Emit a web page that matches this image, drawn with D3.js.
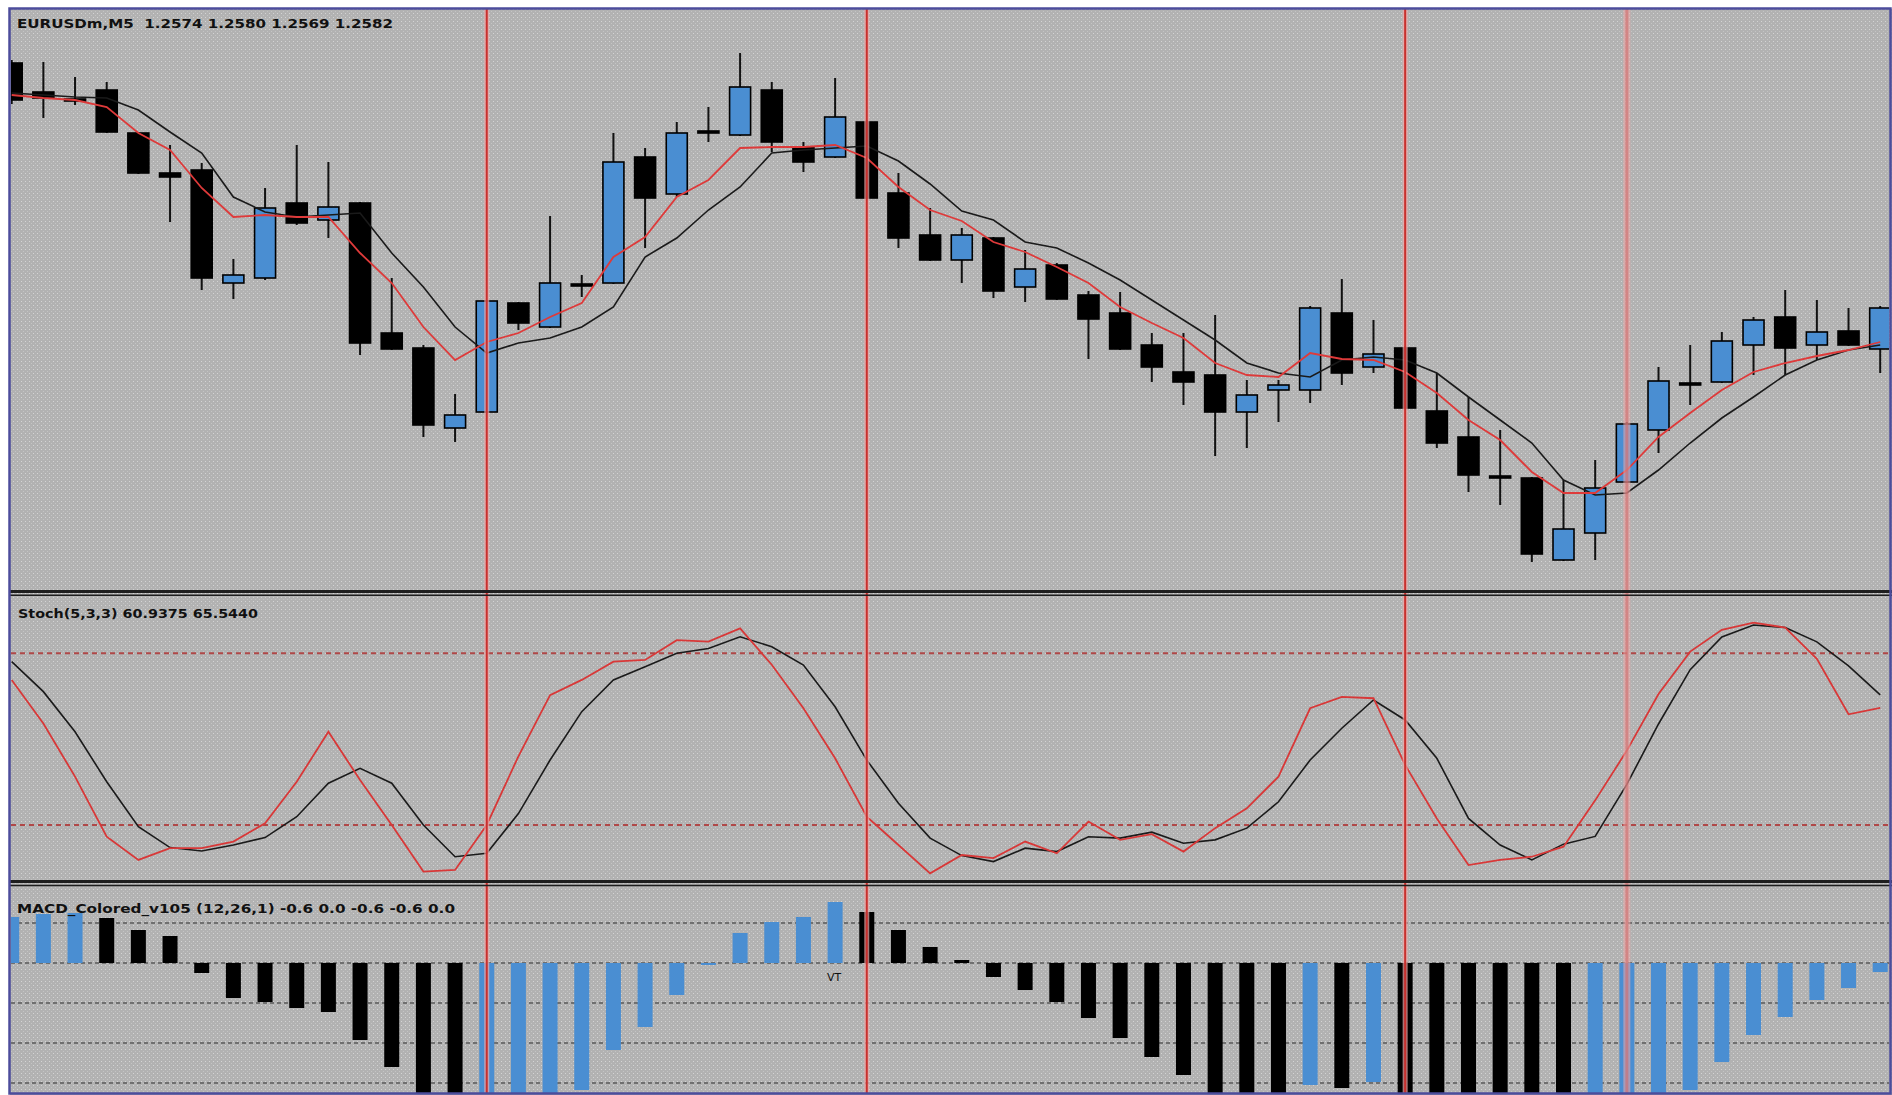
<!DOCTYPE html>
<html>
<head>
<meta charset="utf-8">
<script src="https://cdnjs.cloudflare.com/ajax/libs/d3/7.8.5/d3.min.js"></script>
<style>
html, body { margin: 0; padding: 0; background: #fff; }
svg { display: block; }
text { font-family: "DejaVu Sans", sans-serif; fill: #111; }
</style>
</head>
<body>
<svg id="chart" width="1892" height="1095"></svg>
<script>
// EURUSDm M5 candles
var opens = [1.26324, 1.26266, 1.26252, 1.26270, 1.26184, 1.26104, 1.26110, 1.25884, 1.25894, 1.26044,
    1.26010, 1.26044, 1.25784, 1.25754, 1.25594, 1.25626, 1.25844, 1.25796, 1.25882, 1.25884,
    1.26136, 1.26062, 1.26188, 1.26180, 1.26270, 1.26156, 1.26136, 1.26206, 1.26064, 1.25980,
    1.25930, 1.25974, 1.25876, 1.25920, 1.25860, 1.25824, 1.25760, 1.25706, 1.25700, 1.25626,
    1.25670, 1.25670, 1.25824, 1.25716, 1.25754, 1.25628, 1.25576, 1.25498, 1.25494, 1.25330,
    1.25384, 1.25486, 1.25590, 1.25684, 1.25686, 1.25760, 1.25816, 1.25760, 1.25788, 1.25752];

var highs = [1.26330, 1.26326, 1.26296, 1.26286, 1.26186, 1.26160, 1.26124, 1.25932, 1.26074, 1.26160,
    1.26126, 1.26046, 1.25894, 1.25760, 1.25662, 1.25850, 1.25846, 1.26018, 1.25900, 1.26184,
    1.26154, 1.26206, 1.26236, 1.26344, 1.26286, 1.26166, 1.26294, 1.26210, 1.26104, 1.26034,
    1.25994, 1.25976, 1.25950, 1.25924, 1.25868, 1.25866, 1.25784, 1.25784, 1.25820, 1.25690,
    1.25690, 1.25838, 1.25892, 1.25810, 1.25758, 1.25704, 1.25656, 1.25590, 1.25496, 1.25490,
    1.25530, 1.25606, 1.25716, 1.25760, 1.25786, 1.25816, 1.25870, 1.25850, 1.25834, 1.25838];

var lows = [1.26242, 1.26214, 1.26240, 1.26184, 1.26102, 1.26006, 1.25870, 1.25852, 1.25890, 1.26000,
    1.25974, 1.25740, 1.25750, 1.25576, 1.25566, 1.25624, 1.25790, 1.25794, 1.25856, 1.25882,
    1.25954, 1.26056, 1.26166, 1.26178, 1.26146, 1.26106, 1.26134, 1.26052, 1.25954, 1.25928,
    1.25884, 1.25854, 1.25846, 1.25850, 1.25732, 1.25750, 1.25686, 1.25640, 1.25538, 1.25554,
    1.25606, 1.25644, 1.25680, 1.25704, 1.25632, 1.25554, 1.25466, 1.25440, 1.25326, 1.25328,
    1.25330, 1.25484, 1.25544, 1.25640, 1.25684, 1.25700, 1.25700, 1.25730, 1.25758, 1.25704];

var closes = [1.26250, 1.26254, 1.26250, 1.26186, 1.26104, 1.26096, 1.25894, 1.25900, 1.26034, 1.26004,
    1.26036, 1.25764, 1.25752, 1.25600, 1.25620, 1.25848, 1.25804, 1.25884, 1.25878, 1.26126,
    1.26054, 1.26184, 1.26184, 1.26276, 1.26166, 1.26126, 1.26216, 1.26054, 1.25974, 1.25930,
    1.25980, 1.25868, 1.25912, 1.25852, 1.25812, 1.25752, 1.25716, 1.25686, 1.25626, 1.25660,
    1.25680, 1.25834, 1.25704, 1.25742, 1.25634, 1.25564, 1.25500, 1.25494, 1.25342, 1.25392,
    1.25474, 1.25602, 1.25688, 1.25680, 1.25768, 1.25810, 1.25754, 1.25786, 1.25760, 1.25834];

// moving averages
var maFast = [1.26260, 1.26254, 1.26250, 1.26236, 1.26184, 1.26150, 1.26074, 1.26016, 1.26020, 1.26016,
    1.26016, 1.25944, 1.25884, 1.25796, 1.25730, 1.25766, 1.25784, 1.25816, 1.25844, 1.25936,
    1.25976, 1.26056, 1.26090, 1.26154, 1.26156, 1.26156, 1.26160, 1.26134, 1.26076, 1.26030,
    1.26008, 1.25966, 1.25946, 1.25916, 1.25884, 1.25836, 1.25804, 1.25774, 1.25724, 1.25700,
    1.25696, 1.25744, 1.25732, 1.25730, 1.25706, 1.25664, 1.25610, 1.25570, 1.25506, 1.25464,
    1.25464, 1.25510, 1.25576, 1.25624, 1.25670, 1.25706, 1.25724, 1.25738, 1.25750, 1.25766];

var maSlow = [1.26264, 1.26260, 1.26256, 1.26254, 1.26230, 1.26186, 1.26144, 1.26056, 1.26026, 1.26016,
    1.26020, 1.26024, 1.25944, 1.25876, 1.25796, 1.25744, 1.25764, 1.25774, 1.25796, 1.25836,
    1.25936, 1.25974, 1.26030, 1.26076, 1.26144, 1.26150, 1.26154, 1.26158, 1.26128, 1.26082,
    1.26028, 1.26010, 1.25966, 1.25954, 1.25924, 1.25890, 1.25850, 1.25810, 1.25770, 1.25724,
    1.25704, 1.25696, 1.25730, 1.25736, 1.25730, 1.25704, 1.25656, 1.25610, 1.25564, 1.25490,
    1.25460, 1.25464, 1.25510, 1.25564, 1.25614, 1.25656, 1.25700, 1.25730, 1.25750, 1.25760];

// Stoch(5,3,3)
var stochMain = [70.7, 55.5, 36.9, 15.9, 7.8, 11.9, 11.9, 14.2, 20.6, 35.1,
    52.6, 35.7, 20.0, 3.7, 4.3, 20.0, 44.0, 65.4, 70.7, 77.1,
    77.7, 84.6, 84.1, 88.7, 76.0, 60.8, 43.3, 22.9, 13.0, 3.1,
    9.5, 8.4, 14.2, 10.1, 21.2, 14.8, 16.8, 10.7, 18.9, 25.8,
    36.9, 60.8, 64.8, 64.3, 41.0, 22.3, 6.0, 7.8, 8.9, 12.4,
    28.6, 46.0, 65.8, 80.6, 88.2, 90.7, 89.0, 78.1, 58.7, 60.9];

var stochSignal = [77.1, 66.6, 52.6, 35.1, 19.4, 12.1, 10.9, 13.0, 15.6, 22.9,
    34.6, 39.8, 34.6, 20.0, 8.9, 10.1, 24.0, 42.7, 59.6, 70.7,
    75.3, 80.0, 81.7, 85.8, 82.3, 75.9, 61.3, 42.7, 27.6, 15.4,
    9.3, 7.2, 11.9, 10.7, 15.9, 15.4, 17.5, 13.6, 14.8, 18.9,
    28.1, 42.7, 53.8, 63.7, 56.7, 43.3, 22.3, 13.0, 7.8, 13.3,
    16.0, 34.2, 55.3, 74.3, 85.7, 89.9, 89.0, 84.0, 75.6, 65.5];

var stochLevels = [80, 20];

// MACD_Colored histogram
var macdHist = [0.46, 0.49, 0.50, 0.45, 0.33, 0.27, -0.10, -0.35, -0.39, -0.45,
    -0.49, -0.77, -1.04, -1.40, -1.45, -1.40, -1.36, -1.32, -1.27, -0.87,
    -0.64, -0.32, -0.02, 0.30, 0.41, 0.46, 0.61, 0.51, 0.33, 0.16,
    0.03, -0.14, -0.27, -0.39, -0.55, -0.75, -0.94, -1.12, -1.30, -1.40,
    -1.42, -1.22, -1.25, -1.19, -1.40, -1.45, -1.50, -1.55, -1.60, -1.65,
    -1.60, -1.50, -1.40, -1.27, -0.99, -0.72, -0.54, -0.37, -0.25, -0.09];

var macdGrid = [0.4, 0, -0.4, -0.8, -1.2];

// bars marked with vertical lines
var markerBars = [15, 27, 44, 51];

var mainLabel = "EURUSDm,M5  1.2574 1.2580 1.2569 1.2582";
var stochLabel = "Stoch(5,3,3) 60.9375 65.5440";
var macdLabel = "MACD_Colored_v105 (12,26,1) -0.6 0.0 -0.6 -0.6 0.0";

var blue = "#4a8ed2";

var svg = d3.select("#chart");
var defs = svg.append("defs");

// dotted grid background like the terminal
var pat = defs.append("pattern")
    .attr("id", "dots")
    .attr("width", 4)
    .attr("height", 4)
    .attr("patternUnits", "userSpaceOnUse");
pat.append("rect").attr("width", 4).attr("height", 4).attr("fill", "#b2b2b2");
pat.append("rect").attr("x", 1).attr("y", 1).attr("width", 1).attr("height", 1).attr("fill", "#d4d4d4");
pat.append("rect").attr("x", 3).attr("y", 3).attr("width", 1).attr("height", 1).attr("fill", "#c4c4c4");

var panels = {
    main: [10, 590],
    stoch: [596, 881],
    macd: [887, 1093]
};

Object.keys(panels).forEach(function(k) {
    defs.append("clipPath").attr("id", "clip-" + k)
        .append("rect")
        .attr("x", 11)
        .attr("y", panels[k][0])
        .attr("width", 1878)
        .attr("height", panels[k][1] - panels[k][0]);
});

svg.append("rect")
    .attr("x", 10).attr("y", 9)
    .attr("width", 1882).attr("height", 1086)
    .attr("fill", "url(#dots)");

var x = d3.scaleLinear().domain([0, opens.length - 1]).range([11.7, 1880.2]);
var yMain = d3.scaleLinear().domain([1.2527, 1.2643]).range([590, 10]);
var yStoch = d3.scaleLinear().domain([0, 100]).range([882.2, 596.1]);
var yMacd = d3.scaleLinear().domain([-1, 0]).range([1063, 963]);

// ---- price panel
var gMain = svg.append("g").attr("clip-path", "url(#clip-main)");

var candles = opens.map(function(o, i) {
    return { i: i, o: o, h: highs[i], l: lows[i], c: closes[i] };
});

var candle = gMain.selectAll("g.candle")
    .data(candles)
    .enter().append("g")
    .attr("class", "candle");

candle.append("line")
    .attr("x1", function(d) { return x(d.i); })
    .attr("x2", function(d) { return x(d.i); })
    .attr("y1", function(d) { return yMain(d.h); })
    .attr("y2", function(d) { return yMain(d.l); })
    .attr("stroke", "#111")
    .attr("stroke-width", 2);

candle.append("rect")
    .attr("x", function(d) { return x(d.i) - 10.5; })
    .attr("width", 21)
    .attr("y", function(d) { return yMain(Math.max(d.o, d.c)); })
    .attr("height", function(d) { return Math.max(2, Math.abs(yMain(d.o) - yMain(d.c))); })
    .attr("fill", function(d) { return d.c > d.o ? blue : "#000"; })
    .attr("stroke", "#000")
    .attr("stroke-width", 1.6);

var priceLine = d3.line()
    .x(function(d, i) { return x(i); })
    .y(function(d) { return yMain(d); });

gMain.append("path")
    .attr("d", priceLine(maSlow))
    .attr("fill", "none")
    .attr("stroke", "#1a1a1a")
    .attr("stroke-width", 1.6);

gMain.append("path")
    .attr("d", priceLine(maFast))
    .attr("fill", "none")
    .attr("stroke", "#de3a3a")
    .attr("stroke-width", 1.8);

// ---- stochastic panel
var gStoch = svg.append("g").attr("clip-path", "url(#clip-stoch)");

gStoch.selectAll("line.level")
    .data(stochLevels)
    .enter().append("line")
    .attr("class", "level")
    .attr("x1", 11).attr("x2", 1890)
    .attr("y1", function(d) { return yStoch(d); })
    .attr("y2", function(d) { return yStoch(d); })
    .attr("stroke", "#b04848")
    .attr("stroke-width", 2)
    .attr("stroke-dasharray", "5,4");

var stochLine = d3.line()
    .x(function(d, i) { return x(i); })
    .y(function(d) { return yStoch(d); });

gStoch.append("path")
    .attr("d", stochLine(stochSignal))
    .attr("fill", "none")
    .attr("stroke", "#1a1a1a")
    .attr("stroke-width", 1.6);

gStoch.append("path")
    .attr("d", stochLine(stochMain))
    .attr("fill", "none")
    .attr("stroke", "#d83838")
    .attr("stroke-width", 1.8);

// ---- MACD panel
var gMacd = svg.append("g").attr("clip-path", "url(#clip-macd)");

gMacd.selectAll("line.grid")
    .data(macdGrid)
    .enter().append("line")
    .attr("class", "grid")
    .attr("x1", 11).attr("x2", 1890)
    .attr("y1", function(d) { return yMacd(d); })
    .attr("y2", function(d) { return yMacd(d); })
    .attr("stroke", "#5a5a5a")
    .attr("stroke-width", 1.5)
    .attr("stroke-dasharray", "4,3");

gMacd.selectAll("rect.bar")
    .data(macdHist)
    .enter().append("rect")
    .attr("class", "bar")
    .attr("x", function(d, i) { return x(i) - 7.5; })
    .attr("width", 15)
    .attr("y", function(d) { return Math.min(yMacd(d), yMacd(0)); })
    .attr("height", function(d) { return Math.abs(yMacd(d) - yMacd(0)); })
    .attr("fill", function(d, i) {
        return (i === 0 || d > macdHist[i - 1]) ? blue : "#000";
    });

gMacd.append("text")
    .attr("x", 827)
    .attr("y", 981)
    .attr("font-size", 11)
    .text("VT");

// ---- vertical marker lines
var markers = svg.append("g");

markers.selectAll("line.halo")
    .data(markerBars)
    .enter().append("line")
    .attr("class", "halo")
    .attr("x1", function(d) { return x(d); })
    .attr("x2", function(d) { return x(d); })
    .attr("y1", 9).attr("y2", 1093)
    .attr("stroke", "#f0a8a8")
    .attr("stroke-opacity", function(d, i) { return i === 3 ? 0.55 : 0.7; })
    .attr("stroke-width", function(d, i) { return i === 3 ? 7 : 5; });

markers.selectAll("line.core")
    .data(markerBars)
    .enter().append("line")
    .attr("class", "core")
    .attr("x1", function(d) { return x(d); })
    .attr("x2", function(d) { return x(d); })
    .attr("y1", 9).attr("y2", 1093)
    .attr("stroke", function(d, i) { return i === 3 ? "#d06a6a" : "#c8302e"; })
    .attr("stroke-opacity", function(d, i) { return i === 3 ? 0.6 : 1; })
    .attr("stroke-width", function(d, i) { return i === 3 ? 3 : 2; });

// ---- panel separators
var seps = [[591.5, 3], [595.2, 1.5], [881.5, 3], [885.5, 1.5]];
svg.selectAll("line.sep")
    .data(seps)
    .enter().append("line")
    .attr("class", "sep")
    .attr("x1", 10).attr("x2", 1892)
    .attr("y1", function(d) { return d[0]; })
    .attr("y2", function(d) { return d[0]; })
    .attr("stroke", "#1e1e1e")
    .attr("stroke-width", function(d) { return d[1]; });

// ---- labels
svg.append("text")
    .attr("x", 17).attr("y", 28)
    .attr("font-size", 13)
    .attr("font-weight", "bold")
    .attr("textLength", 376)
    .attr("lengthAdjust", "spacingAndGlyphs")
    .style("white-space", "pre")
    .text(mainLabel);

svg.append("text")
    .attr("x", 18).attr("y", 618)
    .attr("font-size", 13)
    .attr("font-weight", "bold")
    .attr("textLength", 240)
    .attr("lengthAdjust", "spacingAndGlyphs")
    .text(stochLabel);

svg.append("text")
    .attr("x", 17).attr("y", 913)
    .attr("font-size", 13)
    .attr("font-weight", "bold")
    .attr("textLength", 438)
    .attr("lengthAdjust", "spacingAndGlyphs")
    .text(macdLabel);

// ---- window frame
svg.append("rect")
    .attr("x", 9.5).attr("y", 8.5)
    .attr("width", 1881).attr("height", 1085)
    .attr("fill", "none")
    .attr("stroke", "#4c4c9c")
    .attr("stroke-width", 2.5);
</script>
</body>
</html>
